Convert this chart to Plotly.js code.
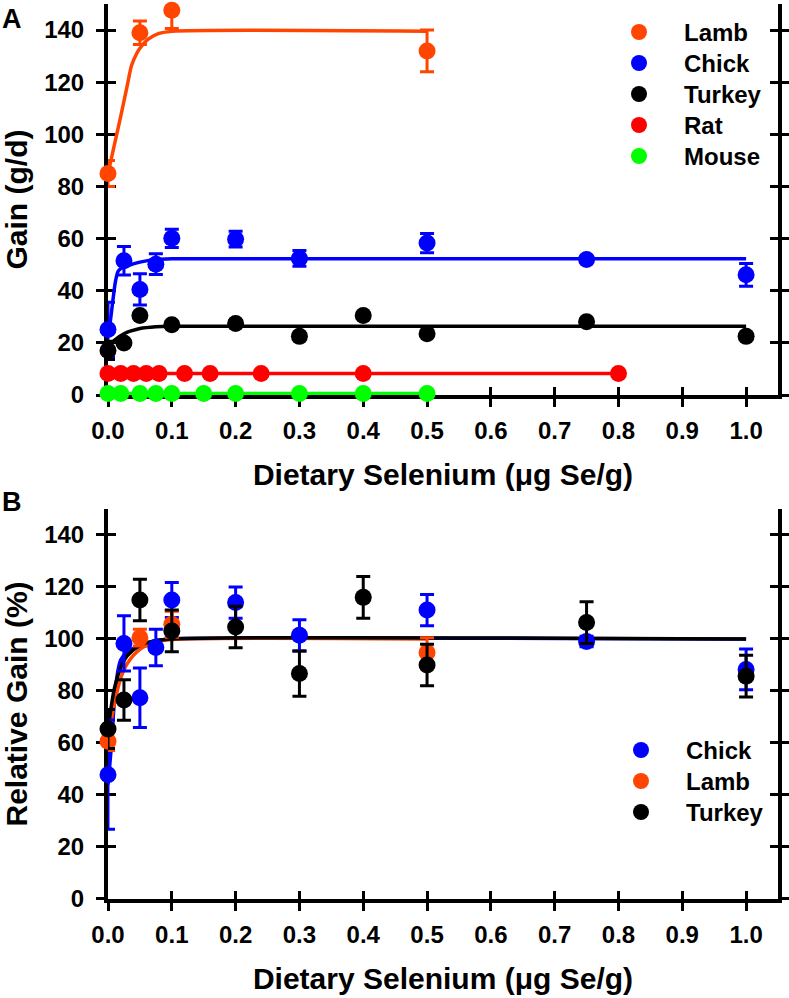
<!DOCTYPE html>
<html>
<head>
<meta charset="utf-8">
<script src="https://cdn.plot.ly/plotly-3.0.1.min.js"></script>
<style>
html,body{margin:0;padding:0;background:#fff;}
#chart{width:789px;height:998px;}
</style>
</head>
<body>
<div id="chart"></div>
<script>
// ---------- Panel A: Gain (g/d) ----------
const lambX = [0, 0.05, 0.1, 0.5];
const lambGain = [85, 139, 147.6, 132];
const lambGainErr = [5, 4.5, 7, 8];
const lambCurveX = [0, 0.01, 0.02, 0.03, 0.037, 0.045, 0.05, 0.063, 0.08, 0.1, 0.5];
const lambCurveY = [85, 96, 107, 118.5, 126.5, 131, 133, 136.5, 138.7, 139.5, 139.5];

const chickX = [0, 0.025, 0.05, 0.075, 0.1, 0.2, 0.3, 0.5, 0.75, 1.0];
const chickGain = [25.1, 51.5, 40.5, 50.2, 60.1, 59.8, 52.4, 58.3, 52.0, 46.1];
const chickGainErr = [10.5, 5.5, 6, 4, 3.5, 3, 3, 3.7, 1, 4.4];
const chickCurveX = [0, 0.004, 0.008, 0.012, 0.016, 0.02, 0.03, 0.05, 0.075, 0.1, 1.0];
const chickCurveY = [23, 29, 37, 44, 47.5, 48.5, 49.5, 51, 52, 52.3, 52.3];

const turkeyX = [0, 0.025, 0.05, 0.1, 0.2, 0.3, 0.4, 0.5, 0.75, 1.0];
const turkeyGain = [17.1, 20.0, 30.5, 27.0, 27.4, 22.5, 30.5, 23.5, 28.1, 22.5];
const turkeyGainErr = [3.5, 1, 1, 1, 1, 1, 1, 1, 1, 1];
const turkeyCurveX = [0, 0.01, 0.025, 0.05, 0.075, 0.1, 1.0];
const turkeyCurveY = [18.2, 21, 23.5, 25.5, 26.2, 26.4, 26.4];

const ratX = [0, 0.02, 0.04, 0.06, 0.08, 0.12, 0.16, 0.24, 0.4, 0.8];
const ratGain = [8.3, 8.3, 8.3, 8.3, 8.3, 8.3, 8.3, 8.3, 8.3, 8.3];
const ratCurveX = [0, 0.8];
const ratCurveY = [8.3, 8.3];

const mouseX = [0, 0.02, 0.05, 0.075, 0.1, 0.15, 0.2, 0.3, 0.4, 0.5];
const mouseGain = [0.6, 0.6, 0.6, 0.6, 0.6, 0.6, 0.6, 0.6, 0.6, 0.6];
const mouseCurveX = [0, 0.5];
const mouseCurveY = [0.6, 0.6];

// ---------- Panel B: Relative Gain (%) ----------
const chickRel = [47.8, 98.3, 77.4, 96.7, 115, 114, 101.4, 111.1, 99, 88.3];
const chickRelErr = [21, 10.6, 11.4, 7, 6.7, 6, 6, 6, 2, 7.8];
const chickRelCurveX = [0, 0.005, 0.01, 0.015, 0.02, 0.03, 0.05, 0.075, 0.1, 1.0];
const chickRelCurveY = [44, 58, 76, 87, 92, 95, 97.5, 99.4, 100, 100];

const lambRel = [60.7, 100.5, 105.7, 94.8];
const lambRelErr = [3.6, 3.2, 5, 5.7];
const lambRelCurveX = [0, 0.01, 0.02, 0.03, 0.05, 0.075, 0.1, 0.5];
const lambRelCurveY = [61, 75, 85, 90.5, 96, 98.8, 99.8, 100];

const turkeyRel = [65.4, 76.5, 115, 103.1, 104.6, 86.7, 116, 90, 106.3, 85.7];
const turkeyRelErr = [7.5, 7.8, 8, 8, 8, 8.7, 8, 8, 8, 8];
const turkeyRelCurveX = [0, 0.01, 0.02, 0.03, 0.05, 0.075, 0.1, 1.0];
const turkeyRelCurveY = [65, 81, 89, 93.5, 97.5, 99.3, 100, 100];

const xTickVals = [0, 0.1, 0.2, 0.3, 0.4, 0.5, 0.6, 0.7, 0.8, 0.9, 1.0];
const xTickText = ['0.0','0.1','0.2','0.3','0.4','0.5','0.6','0.7','0.8','0.9','1.0'];
const yTickVals = [0, 20, 40, 60, 80, 100, 120, 140];

const FONT = 'Liberation Sans, Arial, Helvetica, sans-serif';
const COL = {lamb:'#FF4500', chick:'#0000FF', turkey:'#000000', rat:'#FF0000', mouse:'#00FF00'};

function curve(x, y, color, xa, ya, spline) {
  return {type:'scatter', mode:'lines', x:x, y:y, xaxis:xa, yaxis:ya,
    line:{color:color, width:3.5, shape: spline ? 'spline' : 'linear', smoothing:0.8},
    showlegend:false, hoverinfo:'skip', cliponaxis:false};
}
function pts(name, x, y, err, color, xa, ya, legend) {
  const t = {type:'scatter', mode:'markers', name:name, x:x, y:y, xaxis:xa, yaxis:ya,
    marker:{color:color, size:17, line:{width:0}}, legend:legend, cliponaxis:false};
  if (err) t.error_y = {type:'data', array:err, visible:true, color:color, thickness:3, width:7};
  return t;
}
function dummy(xa, ya) {
  return {type:'scatter', mode:'markers', x:[null], y:[null], xaxis:xa, yaxis:ya, showlegend:false, hoverinfo:'skip'};
}

const traces = [
  curve(lambCurveX, lambCurveY, COL.lamb, 'x', 'y', true),
  curve(chickCurveX, chickCurveY, COL.chick, 'x', 'y', true),
  curve(turkeyCurveX, turkeyCurveY, COL.turkey, 'x', 'y', true),
  curve(ratCurveX, ratCurveY, COL.rat, 'x', 'y', false),
  curve(mouseCurveX, mouseCurveY, COL.mouse, 'x', 'y', false),
  pts('Lamb', lambX, lambGain, lambGainErr, COL.lamb, 'x', 'y', 'legend'),
  pts('Chick', chickX, chickGain, chickGainErr, COL.chick, 'x', 'y', 'legend2'),
  pts('Turkey', turkeyX, turkeyGain, turkeyGainErr, COL.turkey, 'x', 'y', 'legend3'),
  pts('Rat', ratX, ratGain, null, COL.rat, 'x', 'y', 'legend4'),
  pts('Mouse', mouseX, mouseGain, null, COL.mouse, 'x', 'y', 'legend5'),

  curve(chickRelCurveX, chickRelCurveY, COL.chick, 'x2', 'y2', true),
  curve(lambRelCurveX, lambRelCurveY, COL.lamb, 'x2', 'y2', true),
  curve(turkeyRelCurveX, turkeyRelCurveY, COL.turkey, 'x2', 'y2', true),
  pts('Chick', chickX, chickRel, chickRelErr, COL.chick, 'x2', 'y2', 'legend6'),
  pts('Lamb', lambX, lambRel, lambRelErr, COL.lamb, 'x2', 'y2', 'legend7'),
  pts('Turkey', turkeyX, turkeyRel, turkeyRelErr, COL.turkey, 'x2', 'y2', 'legend8'),

  dummy('x3', 'y3'),
  dummy('x4', 'y4')
];

const tickFont = {family:FONT, size:24, color:'#000', weight:'bold'};
const titleFont = {family:FONT, size:30, color:'#000', weight:'bold'};

function xAxis(anchor, titleText) {
  return {anchor:anchor, domain:[0,1], range:[0,1.05], tickmode:'array', tickvals:xTickVals, ticktext:xTickText,
    ticks:'outside', ticklen:8, tickwidth:3, tickcolor:'#000', showline:true, linewidth:4, linecolor:'#000',
    mirror:false, showgrid:false, zeroline:false, tickfont:tickFont, ticklabelstandoff:3,
    layer:'below traces', fixedrange:true,
    title:{text:titleText, font:titleFont, standoff:22}};
}
function yAxis(anchor, domain, titleText) {
  return {anchor:anchor, domain:domain, range:[0,150], tickmode:'array', tickvals:yTickVals,
    ticks:'outside', ticklen:8, tickwidth:3, tickcolor:'#000', showline:true, linewidth:4, linecolor:'#000',
    mirror:'ticks', showgrid:false, zeroline:false, tickfont:tickFont, ticklabelstandoff:7,
    layer:'below traces', fixedrange:true,
    title:{text:titleText, font:titleFont, standoff:11}};
}
function xOver(over, anchor) {
  return {overlaying:over, anchor:anchor, range:[0,1.05], tickmode:'array', tickvals:xTickVals,
    ticks:'inside', ticklen:8, tickwidth:3, tickcolor:'#000', showticklabels:false, showline:false,
    showgrid:false, zeroline:false, layer:'below traces', fixedrange:true};
}
function yOver(over, anchor) {
  return {overlaying:over, anchor:anchor, range:[0,150], tickmode:'array', tickvals:yTickVals,
    ticks:'inside', ticklen:8, tickwidth:3, tickcolor:'#000', showticklabels:false, showline:true,
    linewidth:4, linecolor:'#000', mirror:'ticks',
    showgrid:false, zeroline:false, layer:'below traces', fixedrange:true};
}

const legendFont = {family:FONT, size:24, color:'#000', weight:'bold'};
// one legend box per entry so the row spacing follows the reference
function legendAt(markerX, rowY) {
  return {x:(markerX - 45 - 108) / 670, y:(899 - (rowY - 22.1)) / 895, xref:'paper', yref:'paper',
    xanchor:'left', yanchor:'top', font:legendFont, bgcolor:'rgba(0,0,0,0)', borderwidth:0,
    itemwidth:80, itemclick:false, itemdoubleclick:false};
}

const layout = {
  width:789, height:998,
  margin:{l:108, r:11, t:4, b:99, pad:0},
  paper_bgcolor:'#fff', plot_bgcolor:'rgba(0,0,0,0)',
  showlegend:true,
  xaxis: xAxis('y', 'Dietary Selenium (μg Se/g)'),
  yaxis: yAxis('x', [0.5631, 1], 'Gain (g/d)'),
  xaxis2: xAxis('y2', 'Dietary Selenium (μg Se/g)'),
  yaxis2: yAxis('x2', [0, 0.4358], 'Relative Gain (%)'),
  xaxis3: xOver('x', 'y3'),
  yaxis3: yOver('y', 'x3'),
  xaxis4: xOver('x2', 'y4'),
  yaxis4: yOver('y2', 'x4'),
  legend: legendAt(639, 32),
  legend2: legendAt(639, 63),
  legend3: legendAt(639, 94),
  legend4: legendAt(639, 125),
  legend5: legendAt(639, 156),
  legend6: legendAt(641, 750),
  legend7: legendAt(641, 781),
  legend8: legendAt(641, 812),
  annotations: [
    {text:'A', x:-0.1433, y:0.9832, xref:'paper', yref:'paper', xanchor:'center', yanchor:'middle', showarrow:false,
     font:{family:FONT, size:27, color:'#000', weight:'bold'}},
    {text:'B', x:-0.1433, y:0.4436, xref:'paper', yref:'paper', xanchor:'center', yanchor:'middle', showarrow:false,
     font:{family:FONT, size:27, color:'#000', weight:'bold'}}
  ],
  hovermode:false
};

Plotly.newPlot('chart', traces, layout, {displayModeBar:false, staticPlot:true});
</script>
</body>
</html>
